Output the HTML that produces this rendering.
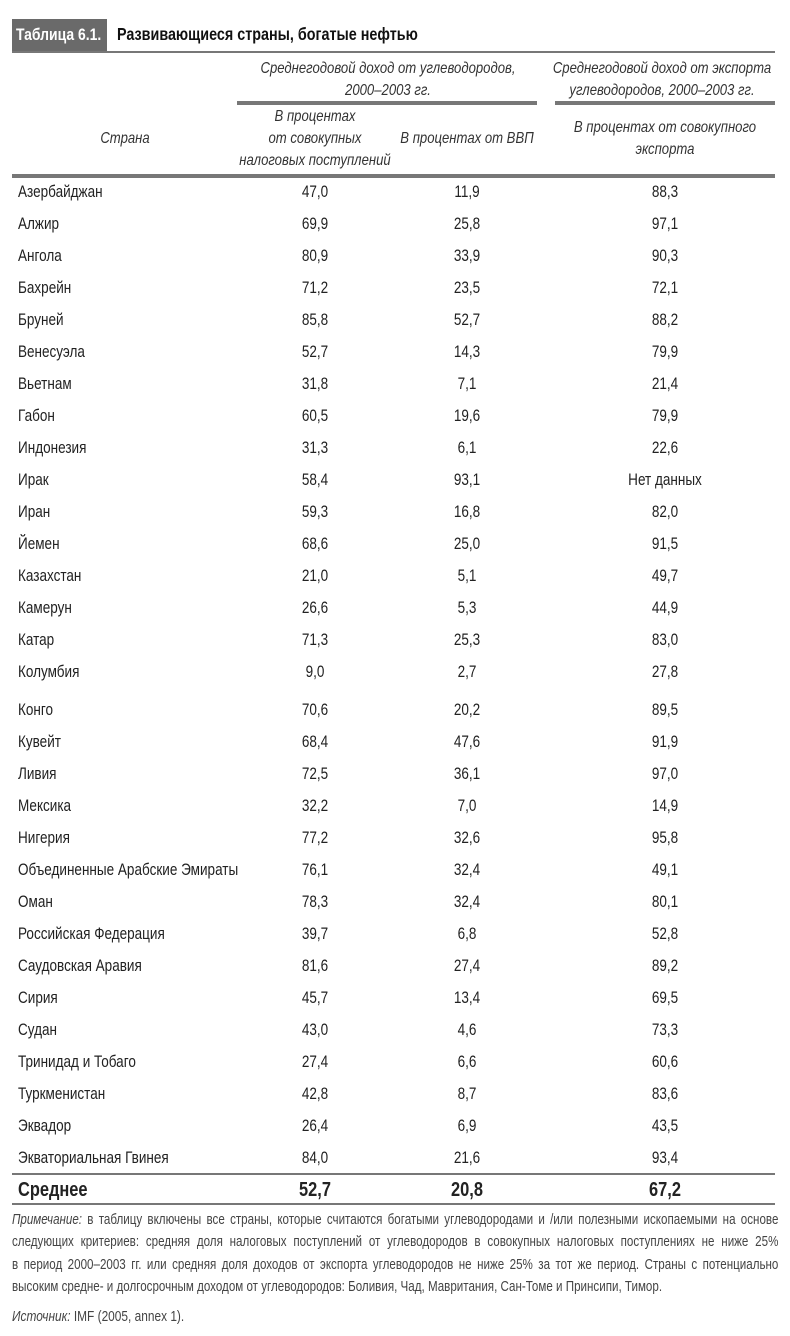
<!DOCTYPE html>
<html><head><meta charset="utf-8"><style>
body{margin:0;width:790px;height:1336px;background:#fff;position:relative;font-family:"Liberation Sans",sans-serif;color:#222;overflow:hidden}
.a{position:absolute;white-space:nowrap}
.n{transform:scaleX(.82);transform-origin:left center}
.c{transform:translateX(-50%) scaleX(.82);text-align:center}
.l{position:absolute;background:#777}
.r{font-size:16.5px}
.i{font-style:italic;font-size:16px;color:#333;line-height:22px}
.nt{position:absolute;left:12px;width:958px;font-size:14.5px;color:#444;text-align:justify;text-align-last:justify;white-space:nowrap;transform:scaleX(.80);transform-origin:left center}
</style></head><body>
<div class="a" style="left:12px;top:19px;width:95px;height:33px;background:#6a6a6a"></div>
<div class="a n" style="left:16px;top:25px;color:#fff;font-weight:bold;font-size:17px">Таблица 6.1.</div>
<div class="a n" style="left:117px;top:24px;font-weight:bold;font-size:17.5px;color:#111">Развивающиеся страны, богатые нефтью</div>
<div class="l" style="left:12px;top:51px;width:763px;height:2px"></div>
<div class="a c i" style="left:388px;top:58px">Среднегодовой доход от углеводородов,<br>2000–2003 гг.</div>
<div class="a c i" style="left:662px;top:58px">Среднегодовой доход от экспорта<br>углеводородов, 2000–2003 гг.</div>
<div class="l" style="left:237px;top:101px;width:300px;height:4px"></div>
<div class="l" style="left:555px;top:101px;width:220px;height:4px"></div>
<div class="a c i" style="left:315px;top:106px">В процентах<br>от совокупных<br>налоговых поступлений</div>
<div class="a c i" style="left:467px;top:128px">В процентах от ВВП</div>
<div class="a c i" style="left:665px;top:117px">В процентах от совокупного<br>экспорта</div>
<div class="a c i" style="left:125px;top:128px">Страна</div>
<div class="l" style="left:12px;top:174px;width:763px;height:4px"></div>
<div id="rows"></div>
<div class="l" style="left:12px;top:1173px;width:763px;height:2px"></div>
<div class="a n" style="left:18px;top:1179px;font-weight:bold;font-size:20px">Среднее</div>
<div class="a c" style="left:315px;top:1179px;font-weight:bold;font-size:20px">52,7</div>
<div class="a c" style="left:467px;top:1179px;font-weight:bold;font-size:20px">20,8</div>
<div class="a c" style="left:665px;top:1179px;font-weight:bold;font-size:20px">67,2</div>
<div class="l" style="left:12px;top:1203px;width:763px;height:2px"></div>
<div class="nt" style="top:1212px"><i>Примечание:</i> в таблицу включены все страны, которые считаются богатыми углеводородами и /или полезными ископаемыми на основе</div>
<div class="nt" style="top:1234px">следующих критериев: средняя доля налоговых поступлений от углеводородов в совокупных налоговых поступлениях не ниже 25%</div>
<div class="nt" style="top:1257px">в период 2000–2003 гг. или средняя доля доходов от экспорта углеводородов не ниже 25% за тот же период. Страны с потенциально</div>
<div class="a" style="left:12px;top:1279px;font-size:14.5px;color:#444;transform:scaleX(.80);transform-origin:left center">высоким средне- и долгосрочным доходом от углеводородов: Боливия, Чад, Мавритания, Сан-Томе и Принсипи, Тимор.</div>
<div class="a n" style="left:12px;top:1309px;font-size:14.5px;color:#444"><i>Источник:</i> IMF (2005, annex 1).</div>
<script>
var d=[["Азербайджан","47,0","11,9","88,3"],["Алжир","69,9","25,8","97,1"],["Ангола","80,9","33,9","90,3"],["Бахрейн","71,2","23,5","72,1"],["Бруней","85,8","52,7","88,2"],["Венесуэла","52,7","14,3","79,9"],["Вьетнам","31,8","7,1","21,4"],["Габон","60,5","19,6","79,9"],["Индонезия","31,3","6,1","22,6"],["Ирак","58,4","93,1","Нет данных"],["Иран","59,3","16,8","82,0"],["Йемен","68,6","25,0","91,5"],["Казахстан","21,0","5,1","49,7"],["Камерун","26,6","5,3","44,9"],["Катар","71,3","25,3","83,0"],["Колумбия","9,0","2,7","27,8"],["Конго","70,6","20,2","89,5"],["Кувейт","68,4","47,6","91,9"],["Ливия","72,5","36,1","97,0"],["Мексика","32,2","7,0","14,9"],["Нигерия","77,2","32,6","95,8"],["Объединенные Арабские Эмираты","76,1","32,4","49,1"],["Оман","78,3","32,4","80,1"],["Российская Федерация","39,7","6,8","52,8"],["Саудовская Аравия","81,6","27,4","89,2"],["Сирия","45,7","13,4","69,5"],["Судан","43,0","4,6","73,3"],["Тринидад и Тобаго","27,4","6,6","60,6"],["Туркменистан","42,8","8,7","83,6"],["Эквадор","26,4","6,9","43,5"],["Экваториальная Гвинея","84,0","21,6","93,4"]];
var h="";d.forEach(function(r,i){var y=183+i*32+(i>=16?6:0);
h+='<div class="a r n" style="left:18px;top:'+y+'px">'+r[0]+'</div>';
h+='<div class="a r c" style="left:315px;top:'+y+'px">'+r[1]+'</div>';
h+='<div class="a r c" style="left:467px;top:'+y+'px">'+r[2]+'</div>';
h+='<div class="a r c" style="left:665px;top:'+y+'px">'+r[3]+'</div>';});
document.getElementById("rows").innerHTML=h;
</script>
</body></html>
